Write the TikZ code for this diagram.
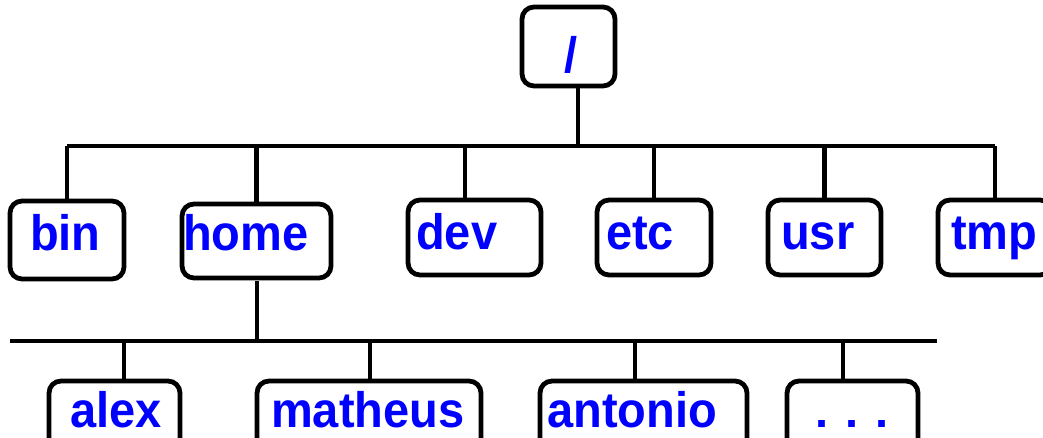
\documentclass[tikz,border=0pt]{standalone}
\usepackage{fontspec}
\setmainfont{Liberation Sans}
\begin{document}
\begin{tikzpicture}[x=1pt,y=-1pt,
  dirbox/.style={draw=black,line width=4.8pt,rounded corners=12pt,inner sep=0pt,outer sep=0pt,fill=white},
  dirname/.style={anchor=base west,inner sep=0pt,text=blue,font=\fontsize{47}{47}\selectfont\bfseries},
  link/.style={draw=black,line width=4.6pt}]
\useasboundingbox (0,0) rectangle (1043,438);
\clip (0,0) rectangle (1043,438);

% directory boxes
\node[dirbox,minimum width=93pt,minimum height=79pt] (root) at (568.5,46.5) {};
\node[dirbox,minimum width=114pt,minimum height=78pt] (bin) at (67,240) {};
\node[dirbox,minimum width=149pt,minimum height=74pt] (home) at (256.5,241) {};
\node[dirbox,minimum width=133pt,minimum height=75pt] (dev) at (474.5,237.5) {};
\node[dirbox,minimum width=114pt,minimum height=75pt] (etc) at (654,237.5) {};
\node[dirbox,minimum width=113pt,minimum height=75pt] (usr) at (824.5,237.5) {};
\node[dirbox,minimum width=114pt,minimum height=75pt] (tmp) at (995,237.5) {};
\node[dirbox,minimum width=131pt,minimum height=75pt] (alex) at (114.5,418.5) {};
\node[dirbox,minimum width=224pt,minimum height=75pt] (matheus) at (369,418.5) {};
\node[dirbox,minimum width=207pt,minimum height=75pt] (antonio) at (643.5,418.5) {};
\node[dirbox,minimum width=131pt,minimum height=75pt] (more) at (852.5,418.5) {};

% directory names
\node[dirname] (tslash) at (564,73) {\scalebox{1}[1.06]{/}};
\node[dirname] (tbin) at (30,251) {\scalebox{1}[1.06]{bin}};
\node[dirname] (thome) at (183,251) {\scalebox{1}[1.06]{home}};
\node[dirname] (tdev) at (416,249) {\scalebox{1}[1.06]{dev}};
\node[dirname] (tetc) at (606,249) {\scalebox{1}[1.06]{etc}};
\node[dirname] (tusr) at (781,249) {\scalebox{1}[1.06]{usr}};
\node[dirname] (ttmp) at (951,249) {\scalebox{1}[1.06]{tmp}};
\node[dirname] (talex) at (70,427) {\scalebox{1}[1.06]{alex}};
\node[dirname] (tmatheus) at (271,427) {\scalebox{1}[1.06]{matheus}};
\node[dirname] (tantonio) at (547,427) {\scalebox{1}[1.06]{antonio}};
\node[dirname] (tmore) at (815,427) {.\hspace{17pt}.\hspace{17pt}.};

% first level bus
\coordinate (busL) at (67,146);
\coordinate (busR) at (995,146);
\coordinate (rootstem) at (578,146);
\draw[link] (busL) -- (busR);
\draw[link] (rootstem |- root.south) -- (rootstem);
\foreach \n/\x in {bin/67,home/256.5,dev/465,etc/654,usr/824.5,tmp/995}{
  \coordinate (top-\n) at (\x,146);
  \draw[link] (top-\n) -- (top-\n |- \n.north);
}

% second level bus under home
\coordinate (subL) at (10,341);
\coordinate (subR) at (937,341);
\coordinate (homestem) at (257,341);
\draw[link] (subL) -- (subR);
\draw[link] ([yshift=-3pt]homestem |- home.south) -- (homestem);
\foreach \n/\x in {alex/124,matheus/370,antonio/635,more/843}{
  \coordinate (top-\n) at (\x,341);
  \draw[link] (top-\n) -- (top-\n |- \n.north);
}
\end{tikzpicture}
\end{document}
